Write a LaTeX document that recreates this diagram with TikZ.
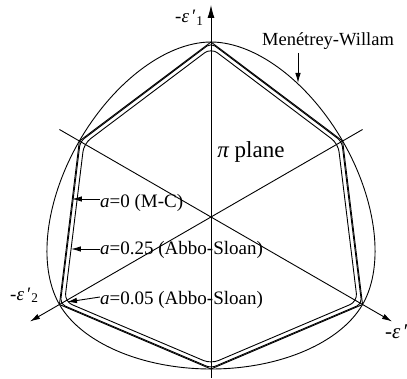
\documentclass[tikz,border=0pt]{standalone}
\usepackage{fontspec}
\setmainfont{Liberation Serif}
\usetikzlibrary{arrows.meta,calc}
\newcommand\hexpath[2]{($(90:#1)!.5!(150:#2)$) -- (150:#2) -- (210:#1) -- (270:#2) -- (330:#1) -- (30:#2) -- (90:#1) -- cycle}
\begin{document}
\begin{tikzpicture}[x=1pt,y=1pt,
  ln/.style={line width=0.9pt, line join=round},
  arr/.style={ln, -{Latex[length=10pt,width=5.5pt]}},
  lbl/.style={font=\fontsize{19}{22}\selectfont, inner sep=0pt},
  declare function={
    lode(\t)=60-abs(mod(\t-30,120)-60);
    cl(\t)=cos(lode(\t));
    mwr(\t)=175*(0.49106*cl(\t)+0.7372*sqrt(0.98212*cl(\t)*cl(\t)+0.29795))/(0.98212*cl(\t)*cl(\t)+0.54346);
  }]
\useasboundingbox (-211,-161) rectangle (196,217);
% Menetrey-Willam surface
\draw[ln] plot[samples=241, domain=30:390, variable=\t] (\t:{mwr(\t)}) -- cycle;
% Mohr-Coulomb and Abbo-Sloan surfaces
\draw[ln] \hexpath{175}{152};
\draw[ln, rounded corners=5pt] \hexpath{174}{151};
\draw[ln, rounded corners=8pt] \hexpath{169}{146.7};
% axes
\coordinate (v0) at (0,-161);
\coordinate (v1) at (0,212);
\coordinate (d1s) at (150:175);
\coordinate (d1e) at (330:209);
\coordinate (d2s) at (30:175);
\coordinate (d2e) at (210:209);
\draw[ln, -{Latex[length=13pt,width=7pt]}] (v0) -- (v1);
\draw[arr] (d1s) -- (d1e);
\draw[arr] (d2s) -- (d2e);
% axis labels
\node[lbl, anchor=base west] (e1) at (-36,194) {-{\itshape ε}\,′\textsubscript{1}};
\node[lbl, anchor=base west] (e2) at (-201,-83) {-{\itshape ε}\,′\textsubscript{2}};
\node[lbl, anchor=base west, font=\fontsize{21}{24}\selectfont] (e3) at (174,-121) {-{\itshape ε}\,′\textsubscript{3}};
\node[font=\fontsize{23}{26}\selectfont, inner sep=0pt] (pi) at (40,65) {{\itshape π} plane};
% Menetrey-Willam label
\node[font=\fontsize{18.5}{21}\selectfont, inner sep=0pt] (mw) at (117,176) {Menétrey-Willam};
\coordinate (mwt) at (87,134);
\coordinate (mws) at (87,164);
\draw[arr] (mws) -- (mwt);
% a labels
\node[lbl, anchor=base west] (l0) at (-111,10) {\textit{a}=0 (M-C)};
\coordinate (t0) at (-139,18);
\draw[arr] (l0.west |- t0) -- (t0);
\node[lbl, anchor=base west] (l1) at (-111,-37) {\textit{a}=0.25 (Abbo-Sloan)};
\coordinate (t1) at (-140,-32);
\draw[arr] (l1.west |- t1) -- (t1);
\node[lbl, anchor=base west] (l2) at (-111,-87) {\textit{a}=0.05 (Abbo-Sloan)};
\coordinate (t2) at (-144,-85);
\coordinate (s2) at (-111,-80);
\draw[arr] (s2) -- (t2);
\end{tikzpicture}
\end{document}
